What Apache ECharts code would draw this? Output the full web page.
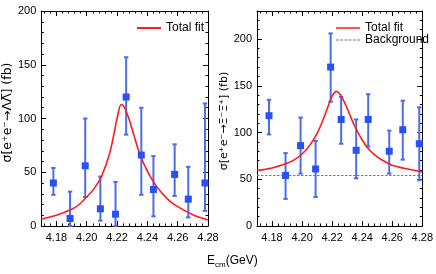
<!DOCTYPE html>
<html>
<head>
<meta charset="utf-8">
<script src="https://cdn.jsdelivr.net/npm/echarts@6/dist/echarts.min.js"></script>
<style>html,body{margin:0;padding:0;background:#fff}#c{width:436px;height:274px}</style>
</head>
<body>
<div id="c"></div>
<script>
// ---- data ----
var energies = [4.178, 4.189, 4.199, 4.209, 4.219, 4.226, 4.236, 4.244, 4.258, 4.267, 4.278];
var lamY  = [40, 7, 56, 16, 11, 120, 66, 34, 48, 25, 40];
var lamHi = [54, 32, 100, 46, 41, 157, 110, 65, 76, 55, 114];
var lamLo = [29, 0, 27, 5, 0, 85, 29, 9, 28, 8, 14];
var xiY  = [118, 54, 86, 61, 170, 114, 81, 114, 80, 103, 88];
var xiHi = [135, 78, 116, 91, 206, 138, 114, 141, 102, 134, 127];
var xiLo = [98, 29, 56, 31, 133, 88, 51, 85, 56, 71, 49];
var fitX   = [4.170, 4.180, 4.190, 4.195, 4.200, 4.205, 4.210, 4.215, 4.218, 4.220, 4.2228, 4.225, 4.228, 4.231, 4.235, 4.240, 4.245, 4.250, 4.255, 4.260, 4.270, 4.280];
var lamFit = [6.5, 10, 15.5, 20, 27, 35, 47, 67, 86, 100, 113, 110, 99, 85, 67, 51, 39, 30, 23, 18, 10.5, 5.6];
var xiFit  = [59.3, 62, 67, 71, 77, 86, 99, 118, 131, 139, 144, 141.5, 133, 122, 107, 92, 81, 74, 69, 65, 61, 58];
var xiBackground = 54;
var xMajor = [4.18, 4.20, 4.22, 4.24, 4.26, 4.28];
var xMinor = [4.172, 4.176, 4.184, 4.188, 4.192, 4.196, 4.204, 4.208, 4.212, 4.216, 4.224, 4.228, 4.232, 4.236, 4.244, 4.248, 4.252, 4.256, 4.264, 4.268, 4.272, 4.276];
var yMajor = [0, 50, 100, 150, 200];
var yMinorL = [10, 20, 30, 40, 60, 70, 80, 90, 110, 120, 130, 140, 160, 170, 180, 190];
var yMinorR = [10, 20, 30, 40, 60, 70, 80, 90, 110, 120, 130, 140, 160, 170, 180, 190, 210, 220];
var xRange = [4.17, 4.28];
var yMaxL = 200, yMaxR = 230;

var FONT = 'Liberation Sans, Arial, Helvetica, sans-serif';
var TFONT = 'DejaVu Sans, sans-serif';
var BLUE = '#2b50f2', BAR = '#4a6df0', RED = '#ff1a1a', GREY = '#7a7a7a';

function zip(a, b) { return a.map(function (v, i) { return [v, b[i]]; }); }
function zip3(a, b, c) { return a.map(function (v, i) { return [v, b[i], c[i]]; }); }

var xAxes = [], yAxes = [];
function addAxes(gi, yMax, yMinor, yName, nameSize, namePad) {
  var lineStyle = {color: '#000', width: 1};
  [['bottom', true], ['top', false]].forEach(function (p) {
    xAxes.push({type: 'value', gridIndex: gi, min: xRange[0], max: xRange[1], position: p[0],
      axisLine: {show: true, onZero: false, lineStyle: lineStyle},
      axisTick: {show: true, inside: true, length: 5, customValues: xMajor, lineStyle: lineStyle},
      axisLabel: p[1] ? {show: true, customValues: xMajor, fontFamily: FONT, fontSize: 11, color: '#000', margin: 6,
        formatter: function (v) { return v.toFixed(2); }} : {show: false},
      splitLine: {show: false}});
    xAxes.push({type: 'value', gridIndex: gi, min: xRange[0], max: xRange[1], position: p[0],
      axisLine: {show: false, onZero: false},
      axisTick: {show: true, inside: true, length: 2.5, customValues: xMinor, lineStyle: lineStyle},
      axisLabel: {show: false}, splitLine: {show: false}});
  });
  [['left', true], ['right', false]].forEach(function (p) {
    var ax = {type: 'value', gridIndex: gi, min: 0, max: yMax, position: p[0],
      axisLine: {show: true, onZero: false, lineStyle: lineStyle},
      axisTick: {show: true, inside: true, length: 5, customValues: yMajor, lineStyle: lineStyle},
      axisLabel: p[1] ? {show: true, customValues: yMajor, fontFamily: FONT, fontSize: 11, color: '#000', margin: 5} : {show: false},
      splitLine: {show: false}};
    if (p[1]) {
      ax.name = yName; ax.nameLocation = 'middle'; ax.nameRotate = 90; ax.nameGap = 24;
      ax.nameTextStyle = {fontFamily: TFONT, fontSize: nameSize, color: '#000', padding: namePad};
    }
    yAxes.push(ax);
    yAxes.push({type: 'value', gridIndex: gi, min: 0, max: yMax, position: p[0],
      axisLine: {show: false, onZero: false},
      axisTick: {show: true, inside: true, length: 2.5, customValues: yMinor, lineStyle: lineStyle},
      axisLabel: {show: false}, splitLine: {show: false}});
  });
}
addAxes(0, yMaxL, yMinorL, 'σ[e\u207Ae\u207B\u2192\u039B\u039B\u0305] (fb)', 12.5, [0, 0, 0, 12]);
addAxes(1, yMaxR, yMinorR, 'σ[e\u207Ae\u207B\u2192\u039E\u207B\u039E\u0305\u207A] (fb)', 11, [0, 5, 0, 0]);

function errRender(params, api) {
  var x = api.value(0), lo = api.value(1), hi = api.value(2);
  var a = api.coord([x, hi]), b = api.coord([x, lo]);
  var w = 2.2, st = {stroke: BAR, lineWidth: 2};
  return {type: 'group', children: [
    {type: 'line', shape: {x1: a[0], y1: a[1], x2: b[0], y2: b[1]}, style: st},
    {type: 'line', shape: {x1: a[0] - w, y1: a[1], x2: a[0] + w, y2: a[1]}, style: st},
    {type: 'line', shape: {x1: b[0] - w, y1: b[1], x2: b[0] + w, y2: b[1]}, style: st}
  ]};
}

var series = [];
function addSeries(gi, ys, lo, hi, fit, withBg) {
  var xi = gi * 4, yi = gi * 4;
  series.push({type: 'custom', xAxisIndex: xi, yAxisIndex: yi, renderItem: errRender,
    data: zip3(energies, lo, hi), encode: {x: 0, y: [1, 2]}, z: 2, silent: true});
  if (withBg) {
    series.push({type: 'line', name: 'Background', xAxisIndex: xi, yAxisIndex: yi, symbol: 'none',
      data: [[xRange[0], xiBackground], [xRange[1], xiBackground]],
      lineStyle: {color: GREY, width: 1, type: [2.5, 1.5]}, itemStyle: {color: GREY}, z: 1});
  }
  series.push({type: 'line', name: 'Total fit', xAxisIndex: xi, yAxisIndex: yi, symbol: 'none', smooth: 0.35,
    data: zip(fitX, fit), lineStyle: {color: RED, width: 1.6}, itemStyle: {color: RED}, z: 3});
  series.push({type: 'scatter', xAxisIndex: xi, yAxisIndex: yi, symbol: 'rect', symbolSize: 7,
    data: zip(energies, ys), itemStyle: {color: BLUE, opacity: 1}, z: 4});
}
addSeries(0, lamY, lamLo, lamHi, lamFit, false);
addSeries(1, xiY, xiLo, xiHi, xiFit, true);

var legendText = {fontFamily: FONT, fontSize: 12, color: '#000'};
var dashIcon = 'path://M0,0h3v1h-3z M4.2,0h3v1h-3z M8.4,0h3v1h-3z M12.6,0h3v1h-3z M16.8,0h3v1h-3z M21,0h3v1h-3z';
var option = {
  animation: false,
  grid: [
    {left: 40, top: 11, width: 168, height: 215},
    {left: 257, top: 11, width: 168, height: 215}
  ],
  xAxis: xAxes,
  yAxis: yAxes,
  legend: [
    {data: [{name: 'Total fit', icon: 'rect'}], left: 137, top: 22, itemWidth: 24, itemHeight: 2, itemGap: 2,
      textStyle: legendText, padding: 0, selectedMode: false},
    {data: [{name: 'Total fit', icon: 'rect'}, {name: 'Background', icon: dashIcon, itemStyle: {color: GREY}}],
      orient: 'vertical', left: 336, top: 22, itemWidth: 24, itemHeight: 1.5, itemGap: 0,
      textStyle: legendText, padding: 0, selectedMode: false}
  ],
  graphic: [
    {type: 'text', left: 207, top: 255, style: {
      text: '{a|E}{b|cm}{a|(GeV)}', fontFamily: FONT,
      rich: {a: {fontSize: 12, fontFamily: FONT, fill: '#000', lineHeight: 16, verticalAlign: 'middle'},
             b: {fontSize: 8, fontFamily: FONT, fill: '#000', lineHeight: 16, verticalAlign: 'bottom'}}}}
  ],
  series: series
};
var chart = echarts.init(document.getElementById('c'), null, {renderer: 'canvas'});
chart.setOption(option);
</script>
</body>
</html>
